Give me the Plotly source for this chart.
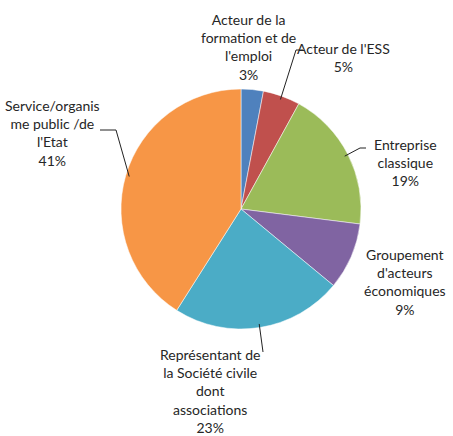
import math
import plotly.graph_objects as go

labels = ["Acteur de la formation et de l'emploi", "Acteur de l'ESS", "Entreprise classique",
          "Groupement d'acteurs économiques",
          "Représentant de la Société civile dont associations", "Service/organisme public /de l'Etat"]
values = [3, 5, 19, 9, 23, 41]
label_texts = ["Acteur de la<br>formation et de<br>l'emploi<br>3%",
               "Acteur de l'ESS<br>5%",
               "Entreprise<br>classique<br>19%",
               "Groupement<br>d'acteurs<br>économiques<br>9%",
               "Représentant de<br>la Société civile<br>dont<br>associations<br>23%",
               "Service/organis<br>me public /de<br>l'Etat<br>41%"]
colors = ["#4F81BD", "#C0504D", "#9BBB59", "#8064A2", "#4BACC6", "#F79646"]

W, H = 453, 436
CX, CY, R = 241, 209, 120

def px(x):
    return x / W

def py(y):
    return 1 - y / H

fig = go.Figure(go.Pie(
    labels=labels, values=values, sort=False, direction="clockwise", rotation=0,
    marker=dict(colors=colors, line=dict(color="white", width=0.5)),
    textinfo="none", hoverinfo="label+percent",
    domain=dict(x=[px(CX - R), px(CX + R)], y=[py(CY + R), py(CY - R)]),
    showlegend=False,
))

# label centres (pixels) and leader-line elbows (None = no leader line)
label_pos = [(248, 47), (343, 57), (405, 162), (405, 282), (210, 391), (52, 133)]
elbows = [None, [(303, 50), (296, 50)], [(366, 148), (360, 148)], None,
          [(263, 352), (263, 352)], [(100, 130), (116, 130)]]

total = sum(values)
cum = 0
for i, v in enumerate(values):
    mid = (cum + v / 2) / total * 2 * math.pi
    cum += v
    lx, ly = label_pos[i]
    fig.add_annotation(x=px(lx), y=py(ly), xref="paper", yref="paper", text=label_texts[i],
                       showarrow=False, align="center", xanchor="center", yanchor="middle",
                       font=dict(family="Lato, Carlito, sans-serif", size=14, color="#262626"))
    if elbows[i] is not None:
        sx = CX + R * 0.97 * math.sin(mid)
        sy = CY - R * 0.97 * math.cos(mid)
        (ex, ey), (fx, fy) = elbows[i]
        path = f"M {px(sx)} {py(sy)} L {px(fx)} {py(fy)} L {px(ex)} {py(ey)}"
        fig.add_shape(type="path", path=path, xref="paper", yref="paper",
                      line=dict(color="#222222", width=1))

fig.update_layout(width=W, height=H, margin=dict(l=0, r=0, t=0, b=0),
                  paper_bgcolor="white", plot_bgcolor="white")
fig.write_html("out.html", config={"displayModeBar": False},
               post_script="document.body.style.margin='0';document.body.style.overflow='hidden';")
